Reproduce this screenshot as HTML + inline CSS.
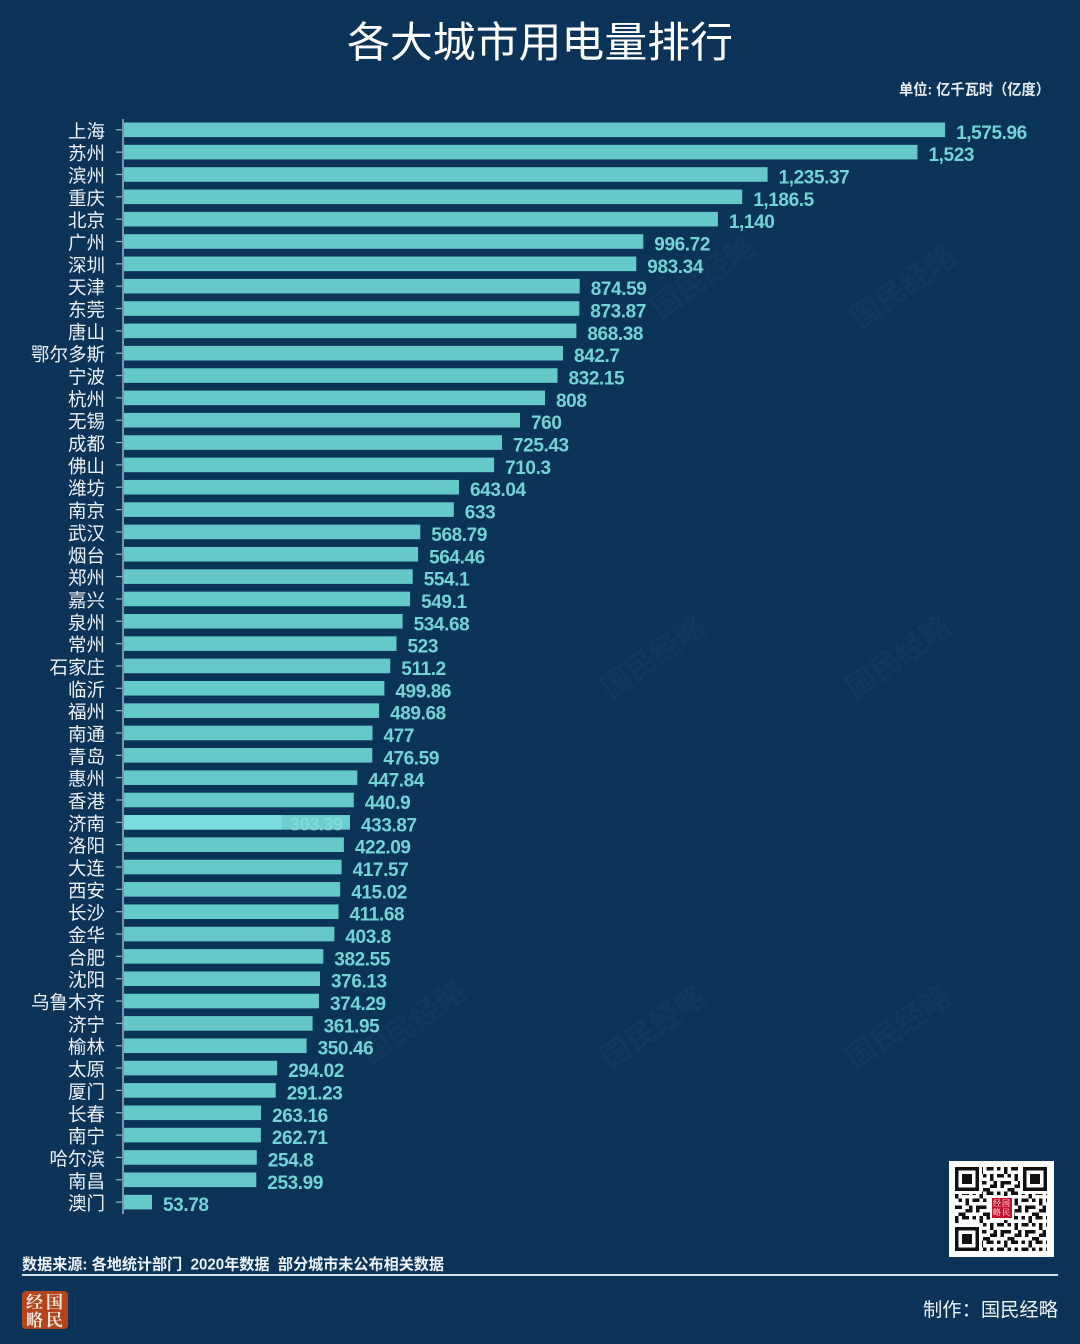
<!DOCTYPE html>
<html><head><meta charset="utf-8"><style>
html,body{margin:0;padding:0;background:#0b3257;}
svg{display:block;}
.c{font-family:"Liberation Sans","Noto Sans CJK SC",sans-serif;font-size:18.5px;fill:#eef3f8;text-anchor:end;}
.v{font-family:"Liberation Sans","Noto Sans CJK SC",sans-serif;font-size:19px;font-weight:bold;fill:#72d4d6;letter-spacing:-0.4px;}
.b{fill:#65c9c9;}
.t{stroke:#9fb4c8;stroke-width:1.2;}
</style></head><body>
<svg width="1080" height="1344" viewBox="0 0 1080 1344" xmlns="http://www.w3.org/2000/svg">
<rect width="1080" height="1344" fill="#0b3257"/>
<g font-family="'Liberation Sans','Noto Sans CJK SC',sans-serif" font-size="30" fill="#ffffff" opacity="0.03" font-weight="bold">
<text transform="translate(660,320) rotate(-35)">国民经略</text>
<text transform="translate(860,330) rotate(-35)">国民经略</text>
<text transform="translate(610,700) rotate(-35)">国民经略</text>
<text transform="translate(855,700) rotate(-35)">国民经略</text>
<text transform="translate(370,1065) rotate(-35)">国民经略</text>
<text transform="translate(610,1070) rotate(-35)">国民经略</text>
<text transform="translate(855,1070) rotate(-35)">国民经略</text>
</g>
<text x="347" y="57" textLength="386" lengthAdjust="spacingAndGlyphs" font-family="'Liberation Sans','Noto Sans CJK SC',sans-serif" font-size="42" fill="#ffffff">各大城市用电量排行</text>
<text x="899" y="94.5" textLength="151" lengthAdjust="spacingAndGlyphs" font-family="'Liberation Sans','Noto Sans CJK SC',sans-serif" font-size="15" font-weight="bold" fill="#e8eef4">单位: 亿千瓦时（亿度）</text>
<line x1="123" y1="119" x2="123" y2="1214" stroke="#9fb4c8" stroke-width="1.5"/>
<g transform="translate(0,129.8)"><line class="t" x1="116" x2="122"/><rect class="b" x="124" y="-7.3" width="821.1" height="14.6"/><text class="c" x="105" y="8">上海</text><text class="v" x="956.1" y="9">1,575.96</text></g>
<g transform="translate(0,152.14)"><line class="t" x1="116" x2="122"/><rect class="b" x="124" y="-7.3" width="793.5" height="14.6"/><text class="c" x="105" y="8">苏州</text><text class="v" x="928.5" y="9">1,523</text></g>
<g transform="translate(0,174.48)"><line class="t" x1="116" x2="122"/><rect class="b" x="124" y="-7.3" width="643.6" height="14.6"/><text class="c" x="105" y="8">滨州</text><text class="v" x="778.6" y="9">1,235.37</text></g>
<g transform="translate(0,196.82)"><line class="t" x1="116" x2="122"/><rect class="b" x="124" y="-7.3" width="618.2" height="14.6"/><text class="c" x="105" y="8">重庆</text><text class="v" x="753.2" y="9">1,186.5</text></g>
<g transform="translate(0,219.16)"><line class="t" x1="116" x2="122"/><rect class="b" x="124" y="-7.3" width="593.9" height="14.6"/><text class="c" x="105" y="8">北京</text><text class="v" x="728.9" y="9">1,140</text></g>
<g transform="translate(0,241.5)"><line class="t" x1="116" x2="122"/><rect class="b" x="124" y="-7.3" width="519.3" height="14.6"/><text class="c" x="105" y="8">广州</text><text class="v" x="654.3" y="9">996.72</text></g>
<g transform="translate(0,263.84)"><line class="t" x1="116" x2="122"/><rect class="b" x="124" y="-7.3" width="512.3" height="14.6"/><text class="c" x="105" y="8">深圳</text><text class="v" x="647.3" y="9">983.34</text></g>
<g transform="translate(0,286.18)"><line class="t" x1="116" x2="122"/><rect class="b" x="124" y="-7.3" width="455.7" height="14.6"/><text class="c" x="105" y="8">天津</text><text class="v" x="590.7" y="9">874.59</text></g>
<g transform="translate(0,308.52)"><line class="t" x1="116" x2="122"/><rect class="b" x="124" y="-7.3" width="455.3" height="14.6"/><text class="c" x="105" y="8">东莞</text><text class="v" x="590.3" y="9">873.87</text></g>
<g transform="translate(0,330.86)"><line class="t" x1="116" x2="122"/><rect class="b" x="124" y="-7.3" width="452.4" height="14.6"/><text class="c" x="105" y="8">唐山</text><text class="v" x="587.4" y="9">868.38</text></g>
<g transform="translate(0,353.2)"><line class="t" x1="116" x2="122"/><rect class="b" x="124" y="-7.3" width="439.0" height="14.6"/><text class="c" x="105" y="8">鄂尔多斯</text><text class="v" x="574.0" y="9">842.7</text></g>
<g transform="translate(0,375.54)"><line class="t" x1="116" x2="122"/><rect class="b" x="124" y="-7.3" width="433.5" height="14.6"/><text class="c" x="105" y="8">宁波</text><text class="v" x="568.5" y="9">832.15</text></g>
<g transform="translate(0,397.88)"><line class="t" x1="116" x2="122"/><rect class="b" x="124" y="-7.3" width="421.0" height="14.6"/><text class="c" x="105" y="8">杭州</text><text class="v" x="556.0" y="9">808</text></g>
<g transform="translate(0,420.22)"><line class="t" x1="116" x2="122"/><rect class="b" x="124" y="-7.3" width="396.0" height="14.6"/><text class="c" x="105" y="8">无锡</text><text class="v" x="531.0" y="9">760</text></g>
<g transform="translate(0,442.56)"><line class="t" x1="116" x2="122"/><rect class="b" x="124" y="-7.3" width="378.0" height="14.6"/><text class="c" x="105" y="8">成都</text><text class="v" x="513.0" y="9">725.43</text></g>
<g transform="translate(0,464.9)"><line class="t" x1="116" x2="122"/><rect class="b" x="124" y="-7.3" width="370.1" height="14.6"/><text class="c" x="105" y="8">佛山</text><text class="v" x="505.1" y="9">710.3</text></g>
<g transform="translate(0,487.24)"><line class="t" x1="116" x2="122"/><rect class="b" x="124" y="-7.3" width="335.0" height="14.6"/><text class="c" x="105" y="8">潍坊</text><text class="v" x="470.0" y="9">643.04</text></g>
<g transform="translate(0,509.58)"><line class="t" x1="116" x2="122"/><rect class="b" x="124" y="-7.3" width="329.8" height="14.6"/><text class="c" x="105" y="8">南京</text><text class="v" x="464.8" y="9">633</text></g>
<g transform="translate(0,531.92)"><line class="t" x1="116" x2="122"/><rect class="b" x="124" y="-7.3" width="296.3" height="14.6"/><text class="c" x="105" y="8">武汉</text><text class="v" x="431.3" y="9">568.79</text></g>
<g transform="translate(0,554.26)"><line class="t" x1="116" x2="122"/><rect class="b" x="124" y="-7.3" width="294.1" height="14.6"/><text class="c" x="105" y="8">烟台</text><text class="v" x="429.1" y="9">564.46</text></g>
<g transform="translate(0,576.6)"><line class="t" x1="116" x2="122"/><rect class="b" x="124" y="-7.3" width="288.7" height="14.6"/><text class="c" x="105" y="8">郑州</text><text class="v" x="423.7" y="9">554.1</text></g>
<g transform="translate(0,598.94)"><line class="t" x1="116" x2="122"/><rect class="b" x="124" y="-7.3" width="286.1" height="14.6"/><text class="c" x="105" y="8">嘉兴</text><text class="v" x="421.1" y="9">549.1</text></g>
<g transform="translate(0,621.28)"><line class="t" x1="116" x2="122"/><rect class="b" x="124" y="-7.3" width="278.6" height="14.6"/><text class="c" x="105" y="8">泉州</text><text class="v" x="413.6" y="9">534.68</text></g>
<g transform="translate(0,643.62)"><line class="t" x1="116" x2="122"/><rect class="b" x="124" y="-7.3" width="272.5" height="14.6"/><text class="c" x="105" y="8">常州</text><text class="v" x="407.5" y="9">523</text></g>
<g transform="translate(0,665.96)"><line class="t" x1="116" x2="122"/><rect class="b" x="124" y="-7.3" width="266.3" height="14.6"/><text class="c" x="105" y="8">石家庄</text><text class="v" x="401.3" y="9">511.2</text></g>
<g transform="translate(0,688.3)"><line class="t" x1="116" x2="122"/><rect class="b" x="124" y="-7.3" width="260.4" height="14.6"/><text class="c" x="105" y="8">临沂</text><text class="v" x="395.4" y="9">499.86</text></g>
<g transform="translate(0,710.64)"><line class="t" x1="116" x2="122"/><rect class="b" x="124" y="-7.3" width="255.1" height="14.6"/><text class="c" x="105" y="8">福州</text><text class="v" x="390.1" y="9">489.68</text></g>
<g transform="translate(0,732.98)"><line class="t" x1="116" x2="122"/><rect class="b" x="124" y="-7.3" width="248.5" height="14.6"/><text class="c" x="105" y="8">南通</text><text class="v" x="383.5" y="9">477</text></g>
<g transform="translate(0,755.32)"><line class="t" x1="116" x2="122"/><rect class="b" x="124" y="-7.3" width="248.3" height="14.6"/><text class="c" x="105" y="8">青岛</text><text class="v" x="383.3" y="9">476.59</text></g>
<g transform="translate(0,777.66)"><line class="t" x1="116" x2="122"/><rect class="b" x="124" y="-7.3" width="233.3" height="14.6"/><text class="c" x="105" y="8">惠州</text><text class="v" x="368.3" y="9">447.84</text></g>
<g transform="translate(0,800.0)"><line class="t" x1="116" x2="122"/><rect class="b" x="124" y="-7.3" width="229.7" height="14.6"/><text class="c" x="105" y="8">香港</text><text class="v" x="364.7" y="9">440.9</text></g>
<g transform="translate(0,822.34)"><line class="t" x1="116" x2="122"/><rect x="124" y="-7.3" width="226.0" height="14.6" fill="#6ccfcf"/><rect x="124" y="-7.3" width="158" height="14.6" fill="#7adcdc"/><text x="290" y="8" font-family="'Liberation Sans',sans-serif" font-size="18" font-weight="bold" fill="#8ee0e0" opacity="0.7" letter-spacing="-0.4">303.39</text><text class="c" x="105" y="8">济南</text><text class="v" x="361.0" y="9">433.87</text></g>
<g transform="translate(0,844.68)"><line class="t" x1="116" x2="122"/><rect class="b" x="124" y="-7.3" width="219.9" height="14.6"/><text class="c" x="105" y="8">洛阳</text><text class="v" x="354.9" y="9">422.09</text></g>
<g transform="translate(0,867.02)"><line class="t" x1="116" x2="122"/><rect class="b" x="124" y="-7.3" width="217.6" height="14.6"/><text class="c" x="105" y="8">大连</text><text class="v" x="352.6" y="9">417.57</text></g>
<g transform="translate(0,889.36)"><line class="t" x1="116" x2="122"/><rect class="b" x="124" y="-7.3" width="216.2" height="14.6"/><text class="c" x="105" y="8">西安</text><text class="v" x="351.2" y="9">415.02</text></g>
<g transform="translate(0,911.7)"><line class="t" x1="116" x2="122"/><rect class="b" x="124" y="-7.3" width="214.5" height="14.6"/><text class="c" x="105" y="8">长沙</text><text class="v" x="349.5" y="9">411.68</text></g>
<g transform="translate(0,934.04)"><line class="t" x1="116" x2="122"/><rect class="b" x="124" y="-7.3" width="210.4" height="14.6"/><text class="c" x="105" y="8">金华</text><text class="v" x="345.4" y="9">403.8</text></g>
<g transform="translate(0,956.38)"><line class="t" x1="116" x2="122"/><rect class="b" x="124" y="-7.3" width="199.3" height="14.6"/><text class="c" x="105" y="8">合肥</text><text class="v" x="334.3" y="9">382.55</text></g>
<g transform="translate(0,978.72)"><line class="t" x1="116" x2="122"/><rect class="b" x="124" y="-7.3" width="196.0" height="14.6"/><text class="c" x="105" y="8">沈阳</text><text class="v" x="331.0" y="9">376.13</text></g>
<g transform="translate(0,1001.06)"><line class="t" x1="116" x2="122"/><rect class="b" x="124" y="-7.3" width="195.0" height="14.6"/><text class="c" x="105" y="8">乌鲁木齐</text><text class="v" x="330.0" y="9">374.29</text></g>
<g transform="translate(0,1023.4)"><line class="t" x1="116" x2="122"/><rect class="b" x="124" y="-7.3" width="188.6" height="14.6"/><text class="c" x="105" y="8">济宁</text><text class="v" x="323.6" y="9">361.95</text></g>
<g transform="translate(0,1045.74)"><line class="t" x1="116" x2="122"/><rect class="b" x="124" y="-7.3" width="182.6" height="14.6"/><text class="c" x="105" y="8">榆林</text><text class="v" x="317.6" y="9">350.46</text></g>
<g transform="translate(0,1068.08)"><line class="t" x1="116" x2="122"/><rect class="b" x="124" y="-7.3" width="153.2" height="14.6"/><text class="c" x="105" y="8">太原</text><text class="v" x="288.2" y="9">294.02</text></g>
<g transform="translate(0,1090.42)"><line class="t" x1="116" x2="122"/><rect class="b" x="124" y="-7.3" width="151.7" height="14.6"/><text class="c" x="105" y="8">厦门</text><text class="v" x="286.7" y="9">291.23</text></g>
<g transform="translate(0,1112.76)"><line class="t" x1="116" x2="122"/><rect class="b" x="124" y="-7.3" width="137.1" height="14.6"/><text class="c" x="105" y="8">长春</text><text class="v" x="272.1" y="9">263.16</text></g>
<g transform="translate(0,1135.1)"><line class="t" x1="116" x2="122"/><rect class="b" x="124" y="-7.3" width="136.9" height="14.6"/><text class="c" x="105" y="8">南宁</text><text class="v" x="271.9" y="9">262.71</text></g>
<g transform="translate(0,1157.44)"><line class="t" x1="116" x2="122"/><rect class="b" x="124" y="-7.3" width="132.8" height="14.6"/><text class="c" x="105" y="8">哈尔滨</text><text class="v" x="267.8" y="9">254.8</text></g>
<g transform="translate(0,1179.78)"><line class="t" x1="116" x2="122"/><rect class="b" x="124" y="-7.3" width="132.3" height="14.6"/><text class="c" x="105" y="8">南昌</text><text class="v" x="267.3" y="9">253.99</text></g>
<g transform="translate(0,1202.12)"><line class="t" x1="116" x2="122"/><rect class="b" x="124" y="-7.3" width="28.0" height="14.6"/><text class="c" x="105" y="8">澳门</text><text class="v" x="163.0" y="9">53.78</text></g>

<!-- QR code -->
<defs>
<pattern id="qr" x="955" y="1167" width="24.5" height="24.5" patternUnits="userSpaceOnUse">
<rect width="24.5" height="24.5" fill="#fff"/>
<g fill="#111">
<rect x="0" y="0" width="3.5" height="7"/><rect x="7" y="0" width="7" height="3.5"/><rect x="17.5" y="0" width="3.5" height="3.5"/>
<rect x="3.5" y="7" width="3.5" height="3.5"/><rect x="10.5" y="7" width="3.5" height="7"/><rect x="17.5" y="7" width="7" height="3.5"/>
<rect x="0" y="14" width="7" height="3.5"/><rect x="14" y="14" width="3.5" height="3.5"/><rect x="21" y="14" width="3.5" height="7"/>
<rect x="3.5" y="21" width="3.5" height="3.5"/><rect x="10.5" y="17.5" width="7" height="3.5"/><rect x="7" y="21" width="3.5" height="3.5"/>
</g>
</pattern>
</defs>
<rect x="949" y="1161" width="105" height="96" fill="#ffffff"/>
<rect x="955" y="1167" width="92" height="84" fill="url(#qr)"/>
<g>
<rect x="954" y="1166" width="28" height="28" fill="#fff"/>
<rect x="955" y="1167" width="24" height="24" fill="#111"/><rect x="958.5" y="1170.5" width="17" height="17" fill="#fff"/><rect x="962" y="1174" width="10" height="10" fill="#111"/>
<rect x="1020" y="1166" width="28" height="28" fill="#fff"/>
<rect x="1023" y="1167" width="24" height="24" fill="#111"/><rect x="1026.5" y="1170.5" width="17" height="17" fill="#fff"/><rect x="1030" y="1174" width="10" height="10" fill="#111"/>
<rect x="954" y="1223" width="28" height="28" fill="#fff"/>
<rect x="955" y="1227" width="24" height="24" fill="#111"/><rect x="958.5" y="1230.5" width="17" height="17" fill="#fff"/><rect x="962" y="1234" width="10" height="10" fill="#111"/>
<rect x="990" y="1196" width="24" height="24" fill="#fff"/>
<rect x="992" y="1198" width="20" height="20" fill="#c4122f"/>
<g font-family="'Noto Serif CJK SC',serif" font-size="8" fill="#fff"><text x="993" y="1206">经</text><text x="1002" y="1206">国</text><text x="993" y="1215">略</text><text x="1002" y="1215">民</text></g>
</g>

<text x="22" y="1269.5" textLength="422" lengthAdjust="spacingAndGlyphs" font-family="'Liberation Sans','Noto Sans CJK SC',sans-serif" font-size="15.5" font-weight="bold" fill="#eef3f8" style="white-space:pre" xml:space="preserve">数据来源: 各地统计部门  2020年数据  部分城市未公布相关数据</text>
<line x1="22" y1="1275" x2="1058" y2="1275" stroke="#cfe0ee" stroke-width="2"/>
<rect x="22" y="1291" width="46" height="38" rx="4" fill="#b4441a"/>
<g font-family="'Noto Serif CJK SC',serif" font-size="17" fill="#f6ece4" font-weight="bold"><text x="26" y="1308">经</text><text x="46" y="1308">国</text><text x="26" y="1326">略</text><text x="46" y="1326">民</text></g>
<text x="923" y="1316" textLength="135" lengthAdjust="spacingAndGlyphs" font-family="'Liberation Sans','Noto Sans CJK SC',sans-serif" font-size="19" fill="#eef3f8">制作：国民经略</text>
</svg>
</body></html>
